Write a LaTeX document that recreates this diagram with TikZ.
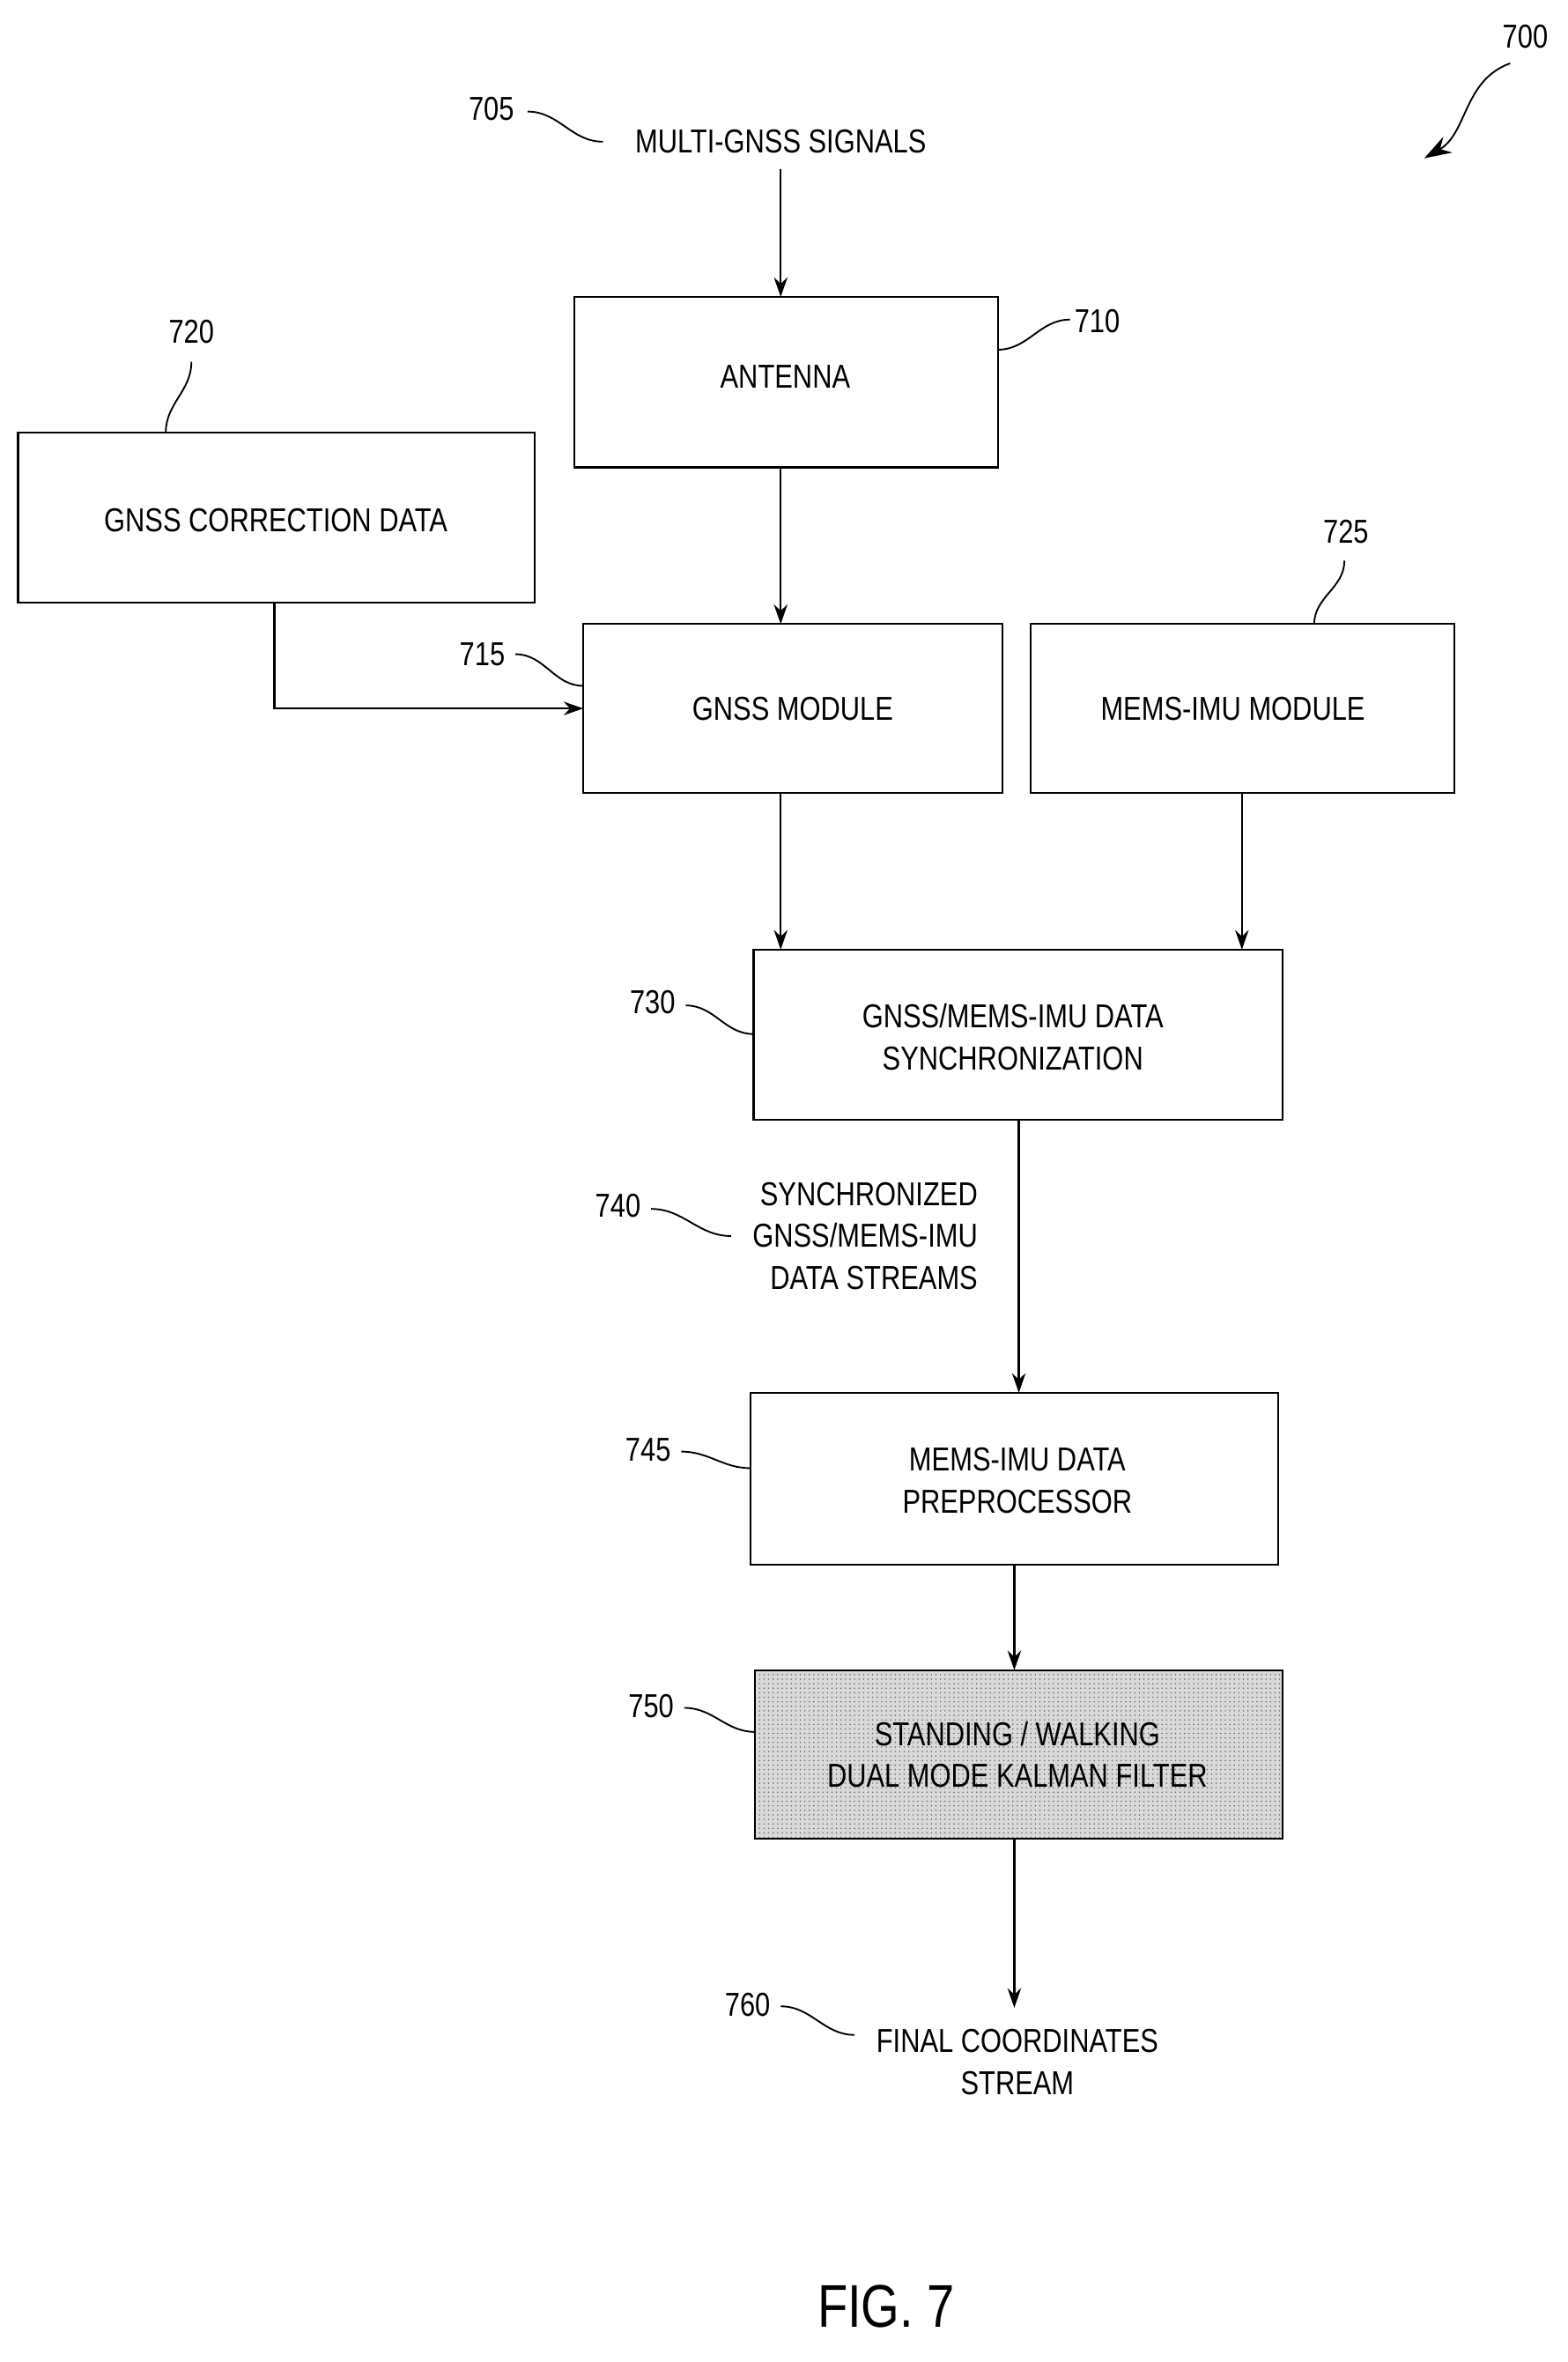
\documentclass[tikz,border=0pt]{standalone}
\usepackage{fontspec}
\setmainfont{Liberation Sans}[FakeStretch=0.82]
\usetikzlibrary{arrows.meta,patterns}
\begin{document}
\begin{tikzpicture}[x=1pt,y=-1pt,
  box/.style={draw,line width=1.3pt,align=center,font=\fontsize{22}{28}\selectfont},
  arr/.style={line width=1.3pt,-{Stealth[length=13pt,width=9pt]}},
  lead/.style={line width=1.1pt},
  lbl/.style={font=\fontsize{22}{28}\selectfont,align=center,inner sep=1pt}]
\useasboundingbox (0,0) rectangle (1040,1567);
\draw[box] (381,197) rectangle (662,310); \node[lbl] (ant) at (521,250) {ANTENNA};
\coordinate (antT) at (518,197); \coordinate (antB) at (518,310);
\draw[box] (12,287) rectangle (355,400); \node[lbl] (cor) at (183,345) {GNSS CORRECTION DATA};
\draw[box] (387,414) rectangle (665,526); \node[lbl] (gm) at (526,470) {GNSS MODULE};
\draw[box] (684,414) rectangle (965,526); \node[lbl] (mm) at (818,470) {MEMS-IMU MODULE};
\draw[box] (500,630) rectangle (851,743); \node[lbl] (sy) at (672,688) {GNSS/MEMS-IMU DATA\\SYNCHRONIZATION};
\draw[box] (498,924) rectangle (848,1038); \node[lbl] (pp) at (675,982) {MEMS-IMU DATA\\PREPROCESSOR};
\draw[box,fill=gray!30] (501,1108) rectangle (851,1220);
\fill[pattern=dots,pattern color=black!60] (501,1108) rectangle (851,1220);
\draw[line width=1.3pt] (501,1108) rectangle (851,1220);
\node[lbl] (kf) at (675,1164) {STANDING / WALKING\\DUAL MODE KALMAN FILTER};
\node[lbl] (ms) at (518,94) {MULTI-GNSS SIGNALS};
\node[lbl,align=right] (ss) at (574,820) {SYNCHRONIZED\\GNSS/MEMS-IMU\\DATA STREAMS};
\node[lbl] (fc) at (675,1368) {FINAL COORDINATES\\STREAM};
\node[font=\fontsize{40}{44}\selectfont] (fig) at (588,1530) {FIG. 7};
% arrows
\draw[arr] (518,112) -- (antT);
\draw[arr] (antB) -- (518,414);
\draw[arr] (182,400) -- (182,470) -- (387,470);
\draw[arr] (518,526) -- (518,630);
\draw[arr] (824,526) -- (824,630);
\draw[arr] (676,743) -- (676,924);
\draw[arr] (673,1038) -- (673,1108);
\draw[arr] (673,1220) -- (673,1332);
% reference labels
\node[lbl] (r700) at (1012,24) {700};
\draw[line width=1.1pt,-{Stealth[length=18pt,width=12pt]}] (1002,42) to[out=200,in=30] (945,105);
\node[lbl] (r705) at (326,72) {705};
\draw[lead] (350,74) to[out=0,in=180] (400,94);
\node[lbl] (r710) at (728,213) {710};
\draw[lead] (662,232) to[out=0,in=180] (710,212);
\node[lbl] (r720) at (127,220) {720};
\draw[lead] (127,240) to[out=-90,in=90] (110,287);
\node[lbl] (r725) at (893,353) {725};
\draw[lead] (892,372) to[out=-90,in=90] (872,414);
\node[lbl] (r715) at (320,434) {715};
\draw[lead] (342,434) to[out=0,in=180] (387,455);
\node[lbl] (r730) at (433,665) {730};
\draw[lead] (455,667) to[out=0,in=180] (500,686);
\node[lbl] (r740) at (410,800) {740};
\draw[lead] (432,802) to[out=0,in=180] (485,820);
\node[lbl] (r745) at (430,962) {745};
\draw[lead] (452,963) to[out=0,in=180] (498,974);
\node[lbl] (r750) at (432,1132) {750};
\draw[lead] (454,1133) to[out=0,in=180] (501,1149);
\node[lbl] (r760) at (496,1330) {760};
\draw[lead] (518,1331) to[out=0,in=180] (567,1350);
\end{tikzpicture}
\end{document}
